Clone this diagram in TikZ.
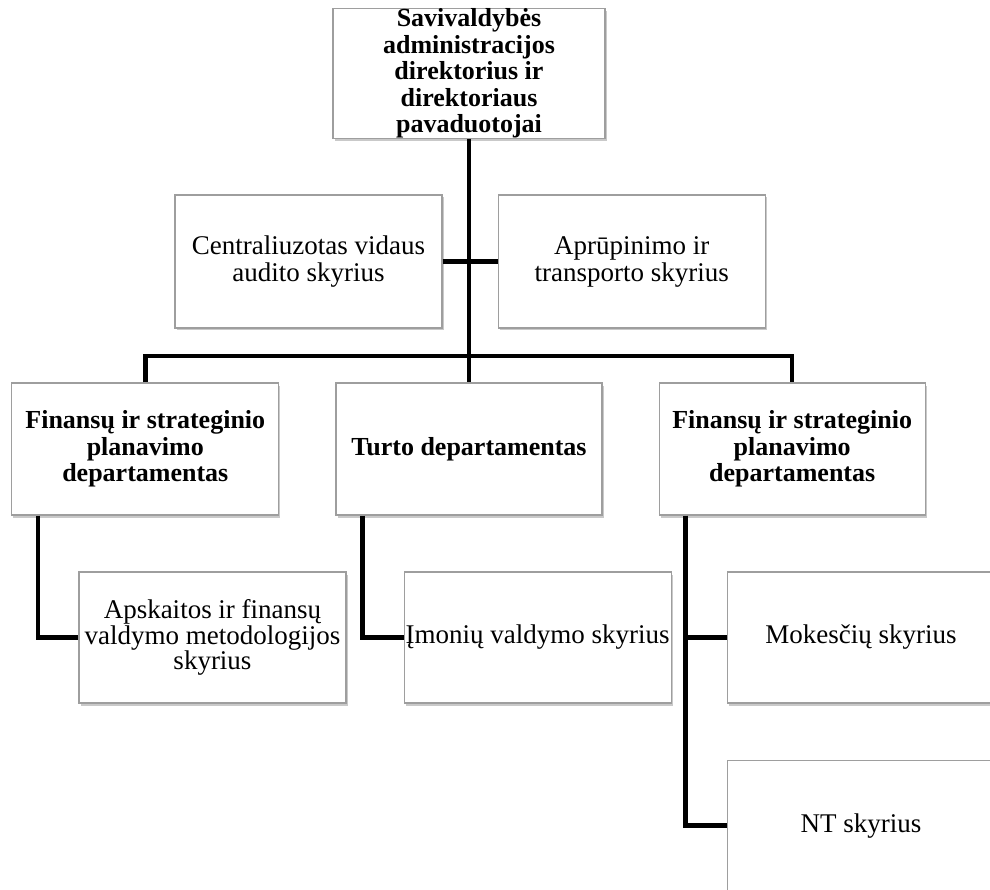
\documentclass[tikz,border=0pt]{standalone}
\usepackage{fontspec}
\setmainfont{Liberation Serif}
\usetikzlibrary{positioning,shadows}

\begin{document}
\begin{tikzpicture}[
		x = 1pt, y = -1pt, % pixel units, y going down
		unit/.style = {rectangle, draw=black!38, line width=1.2pt, fill=white,
			inner sep=0pt, minimum width=267pt, minimum height=131pt, align=center,
			font=\fontsize{27}{27}\selectfont,
			drop shadow={shadow xshift=1.5pt, shadow yshift=-2.5pt, opacity=.3, fill=black!70}},
		head/.style = {unit, font=\fontsize{26}{26.5}\selectfont\bfseries}, % department boxes
		link/.style = {line width=4.5pt, black}, % org chart lines
		node distance = 56pt
		]
		
		\useasboundingbox (0,0) rectangle (990,890);
		
		% top level
		\node[head, minimum width=272pt, minimum height=129pt] (dir) at (469,73.5)
			{Savivaldybės\\administracijos\\direktorius ir\\direktoriaus\\pavaduotojai};
		\node[unit, minimum height=133pt] (audit) at (308.5,261.5) {Centraliuzotas vidaus\\audito skyrius};
		\node[unit, minimum height=133pt] (trans) [right=55pt of audit] {Aprūpinimo ir\\transporto skyrius};
		
		% departments
		\node[head, minimum width=266pt, minimum height=132pt] (turto) at (469,449) {Turto departamentas};
		\node[head, minimum height=132pt] (fin) [left=of turto] {Finansų ir strateginio\\planavimo\\departamentas};
		\node[head, minimum width=266pt, minimum height=132pt] (finr) [right=of turto] {Finansų ir strateginio\\planavimo\\departamentas};
		
		% divisions
		\node[unit, font=\fontsize{27}{23}\selectfont] (apsk) at (212.5,637.5) {Apskaitos ir finansų\\valdymo metodologijos\\skyrius};
		\node[unit] (imon) [right=57pt of apsk] {Įmonių valdymo skyrius};
		\node[unit] (mok) [right=55pt of imon] {Mokesčių skyrius};
		\node[unit] (nt) [below=of mok] {NT skyrius};
		
		\coordinate (bus) at (469,356);
		
		\draw[link] (dir.south) -- (turto.north);
		\draw[link] (audit.east) -- (trans.west);
		\draw[link] (fin.north) |- (bus) -| (finr.north);
		\draw[link] ([xshift=27pt]fin.south west) |- (apsk.west);
		\draw[link] ([xshift=27pt]turto.south west) |- (imon.west);
		\draw[link] ([xshift=27pt]finr.south west) |- (mok.west);
		\draw[link] ([xshift=27pt]finr.south west) |- (nt.west);
		
	\end{tikzpicture}
\end{document}
